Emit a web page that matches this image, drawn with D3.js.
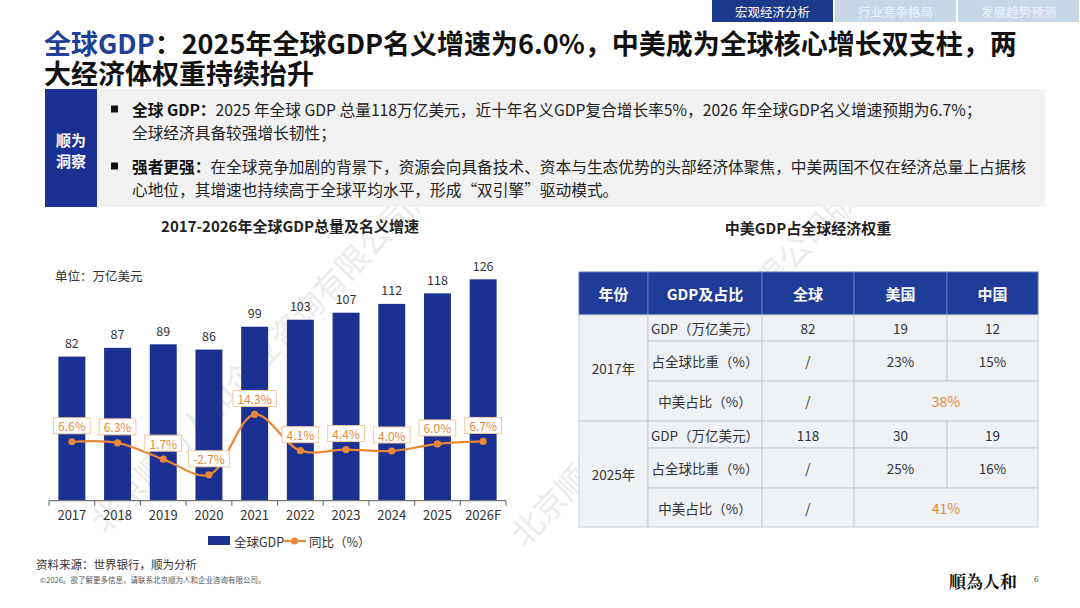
<!DOCTYPE html>
<html>
<head>
<meta charset="utf-8">
<script src="https://cdn.jsdelivr.net/npm/d3@7"></script>
<style>
  body { margin: 0; background: #fff; }
  svg { display: block; font-family: "Noto Sans CJK SC", "Noto Sans", sans-serif; }
</style>
</head>
<body>
<svg id="page" width="1080" height="608"></svg>
<script>
const YEARS = ["2017", "2018", "2019", "2020", "2021", "2022", "2023", "2024", "2025", "2026F"]
const GDP = [82, 87, 89, 86, 99, 103, 107, 112, 118, 126]
const GROWTH = [6.6, 6.3, 1.7, -2.7, 14.3, 4.1, 4.4, 4.0, 6.0, 6.7]

const TABS = ["宏观经济分析", "行业竞争格局", "发展趋势预测"]
const TABLE_HEAD = ["年份", "GDP及占比", "全球", "美国", "中国"]
const TABLE_YEARS = ["2017年", "2025年"]
const ROW_NAMES = ["GDP（万亿美元）", "占全球比重（%）", "中美占比（%）"]
const WORLD_VALS = [["82", "/", "/"], ["118", "/", "/"]]
const US_VALS = [["19", "23%"], ["30", "25%"]]
const CN_VALS = [["12", "15%"], ["19", "16%"]]
const SHARE_VALS = ["38%", "41%"]

const BLUE = "#1b3191";
const ORANGE = "#e8873a";

const svg = d3.select("#page");

// watermark (behind everything)
const wm = svg.append("g").attr("fill", "#a0a0a0").attr("opacity", 0.2)
  .attr("font-size", 32);
[[105, 535], [525, 548]].forEach(([x, y]) => {
  wm.append("text").attr("transform", `translate(${x},${y}) rotate(-46)`)
    .text("北京顺为人和企业咨询有限公司版权所有");
});

// tabs
TABS.forEach((t, i) => {
  const x0 = 712 + i * 123;
  svg.append("rect").attr("x", x0).attr("y", 0).attr("width", 121).attr("height", 22)
    .attr("fill", i === 0 ? "#1c3a8c" : "#c9d6e8");
  svg.append("text").attr("x", x0 + 60.5).attr("y", 11).attr("dominant-baseline", "central")
    .attr("text-anchor", "middle").attr("font-size", 12.5)
    .attr("fill", i === 0 ? "#fff" : "#eef3fa").text(t);
});

// title
const title = svg.append("text").attr("x", 44).attr("y", 54).attr("font-size", 27)
  .attr("font-weight", "bold").attr("fill", "#111");
title.append("tspan").attr("fill", "#1f4096").text("全球GDP");
title.append("tspan").text("：2025年全球GDP名义增速为6.0%，中美成为全球核心增长双支柱，两");
svg.append("text").attr("x", 44).attr("y", 84).attr("font-size", 27)
  .attr("font-weight", "bold").attr("fill", "#111").text("大经济体权重持续抬升");

// insight box
svg.append("rect").attr("x", 97).attr("y", 89).attr("width", 948).attr("height", 118).attr("fill", "#f2f2f2");
svg.append("rect").attr("x", 45).attr("y", 89).attr("width", 52).attr("height", 118).attr("fill", BLUE);
["顺为", "洞察"].forEach((t, i) => {
  svg.append("text").attr("x", 71).attr("y", 139 + i * 21).attr("dominant-baseline", "central")
    .attr("text-anchor", "middle").attr("font-size", 15).attr("font-weight", "bold")
    .attr("fill", "#fff").text(t);
});
const insight = [
  { y: 109, bullet: true, bold: "全球 GDP：", text: "2025 年全球 GDP 总量118万亿美元，近十年名义GDP复合增长率5%，2026 年全球GDP名义增速预期为6.7%；" },
  { y: 132, bullet: false, bold: "", text: "全球经济具备较强增长韧性；" },
  { y: 166, bullet: true, bold: "强者更强：", text: "在全球竞争加剧的背景下，资源会向具备技术、资本与生态优势的头部经济体聚焦，中美两国不仅在经济总量上占据核" },
  { y: 189, bullet: false, bold: "", text: "心地位，其增速也持续高于全球平均水平，形成“双引擎”驱动模式。" }
];
insight.forEach(l => {
  if (l.bullet) {
    svg.append("rect").attr("x", 111).attr("y", l.y - 3.5).attr("width", 7).attr("height", 7).attr("fill", "#111");
  }
  const t = svg.append("text").attr("x", 132).attr("y", l.y).attr("dominant-baseline", "central")
    .attr("font-size", 15.7).attr("fill", "#222");
  if (l.bold) t.append("tspan").attr("font-weight", "bold").attr("fill", "#111").text(l.bold);
  t.append("tspan").text(l.text);
});

// ---------- left chart ----------
svg.append("text").attr("x", 290).attr("y", 225).attr("dominant-baseline", "central")
  .attr("text-anchor", "middle").attr("font-size", 15).attr("font-weight", "bold")
  .attr("fill", "#222").text("2017-2026年全球GDP总量及名义增速");
svg.append("text").attr("x", 55).attr("y", 275).attr("dominant-baseline", "central")
  .attr("font-size", 12.5).attr("fill", "#333").text("单位：万亿美元");

const x = d3.scaleBand().domain(YEARS).range([49, 506]).paddingInner(0.41).paddingOuter(0.205);
const y = d3.scaleLinear().domain([0, 126]).range([500.7, 279.3]);
const y2 = d3.scaleLinear().domain([-10, 20]).range([500.7, 394.2]);

const chart = svg.append("g");
chart.selectAll(".bar").data(YEARS).enter().append("rect")
  .attr("x", d => x(d)).attr("width", x.bandwidth())
  .attr("y", (d, i) => y(GDP[i])).attr("height", (d, i) => y(0) - y(GDP[i]))
  .attr("fill", BLUE);
chart.selectAll(".val").data(YEARS).enter().append("text")
  .attr("x", d => x(d) + x.bandwidth() / 2).attr("y", (d, i) => y(GDP[i]) - 14)
  .attr("dominant-baseline", "central").attr("text-anchor", "middle")
  .attr("font-size", 12.5).attr("fill", "#333").text((d, i) => GDP[i]);

// x axis
const xAxis = chart.append("g").attr("transform", `translate(0, ${y(0)})`)
  .call(d3.axisBottom(x).tickSize(0).tickPadding(10));
xAxis.select(".domain").remove();
xAxis.selectAll("text").attr("font-size", 13).attr("fill", "#333")
  .attr("font-family", "\"Noto Sans CJK SC\", sans-serif");
chart.append("line").attr("x1", 49).attr("x2", 506).attr("y1", y(0)).attr("y2", y(0))
  .attr("stroke", "#777").attr("stroke-width", 1.2);
const edges = YEARS.map(d => x(d) - (x.step() - x.bandwidth()) / 2).concat([506]);
chart.selectAll(".tk").data(edges).enter().append("line")
  .attr("x1", d => d).attr("x2", d => d).attr("y1", y(0)).attr("y2", y(0) + 5)
  .attr("stroke", "#777").attr("stroke-width", 1.2);

// growth line
const cx = d => x(d) + x.bandwidth() / 2;
const line = d3.line().x(d => cx(d)).y((d, i) => y2(GROWTH[i])).curve(d3.curveCatmullRom.alpha(0.5));
chart.append("path").datum(YEARS).attr("d", line)
  .attr("fill", "none").attr("stroke", ORANGE).attr("stroke-width", 2.2);
chart.selectAll(".pt").data(YEARS).enter().append("circle")
  .attr("cx", d => cx(d)).attr("cy", (d, i) => y2(GROWTH[i])).attr("r", 3.6).attr("fill", ORANGE);

const lab = chart.selectAll(".lab").data(YEARS).enter().append("g")
  .attr("transform", (d, i) => `translate(${cx(d)}, ${y2(GROWTH[i]) - 16})`);
lab.append("rect").attr("fill", "#fff").attr("stroke", "#efc9a3").attr("stroke-width", 1);
lab.append("text").attr("dominant-baseline", "central").attr("text-anchor", "middle")
  .attr("font-size", 12).attr("fill", "#e48a3f").text((d, i) => GROWTH[i].toFixed(1) + "%");
lab.each(function() {
  const g = d3.select(this);
  const w = g.select("text").node().getComputedTextLength() + 9;
  g.select("rect").attr("x", -w / 2).attr("y", -8).attr("width", w).attr("height", 16);
});

// legend
svg.append("rect").attr("x", 208).attr("y", 536).attr("width", 22).attr("height", 9).attr("fill", BLUE);
svg.append("text").attr("x", 234).attr("y", 541).attr("dominant-baseline", "central")
  .attr("font-size", 12.5).attr("fill", "#333").text("全球GDP");
svg.append("line").attr("x1", 283).attr("x2", 306).attr("y1", 541).attr("y2", 541)
  .attr("stroke", ORANGE).attr("stroke-width", 2.2);
svg.append("circle").attr("cx", 294.5).attr("cy", 541).attr("r", 3.5).attr("fill", ORANGE);
svg.append("text").attr("x", 309).attr("y", 541).attr("dominant-baseline", "central")
  .attr("font-size", 12.5).attr("fill", "#333").text("同比（%）");

// footer
svg.append("text").attr("x", 36).attr("y", 564).attr("dominant-baseline", "central")
  .attr("font-size", 11.5).attr("fill", "#333").text("资料来源：世界银行，顺为分析");
svg.append("text").attr("x", 40).attr("y", 579).attr("dominant-baseline", "central")
  .attr("font-size", 7.5).attr("fill", "#555").text("©2026。欲了解更多信息，请联系北京顺为人和企业咨询有限公司。");
svg.append("text").attr("x", 983).attr("y", 580).attr("dominant-baseline", "central")
  .attr("text-anchor", "middle").attr("font-size", 17).attr("font-weight", "bold")
  .attr("font-family", "\"Noto Serif CJK SC\", \"Noto Sans CJK TC\", serif")
  .attr("fill", "#111").text("順為人和");
svg.append("text").attr("x", 1034).attr("y", 578).attr("dominant-baseline", "central")
  .attr("font-size", 8).attr("fill", "#555").text("6");

// ---------- right table ----------
svg.append("text").attr("x", 808).attr("y", 227).attr("dominant-baseline", "central")
  .attr("text-anchor", "middle").attr("font-size", 15).attr("font-weight", "bold")
  .attr("fill", "#222").text("中美GDP占全球经济权重");

const COLS = [579, 648, 762, 854, 947, 1038];
const ROWS = [315, 341, 381, 421, 448, 488, 527];
const HEAD_TOP = 272;
const tbl = svg.append("g");
const BORDER = "#c9ced4";
const CELL = "#eef2f5";

function cell(x0, x1, y0, y1, txt, opts = {}) {
  tbl.append("rect").attr("x", x0).attr("y", y0).attr("width", x1 - x0).attr("height", y1 - y0)
    .attr("fill", opts.fill || CELL).attr("stroke", opts.stroke || BORDER).attr("stroke-width", 1);
  tbl.append("text").attr("x", (x0 + x1) / 2).attr("y", (y0 + y1) / 2).attr("dominant-baseline", "central")
    .attr("text-anchor", "middle").attr("font-size", opts.size || 13.5)
    .attr("font-weight", opts.weight || "normal").attr("fill", opts.color || "#333").text(txt);
}

TABLE_HEAD.forEach((h, i) => {
  cell(COLS[i], COLS[i + 1], HEAD_TOP, ROWS[0], h,
    { fill: "#1f3c98", stroke: "#5d76bf", color: "#fff", size: 15, weight: "bold" });
});
TABLE_YEARS.forEach((yr, k) => {
  const r = k * 3;
  cell(COLS[0], COLS[1], ROWS[r], ROWS[r + 3], yr);
  ROW_NAMES.forEach((n, j) => {
    cell(COLS[1], COLS[2], ROWS[r + j], ROWS[r + j + 1], n);
    cell(COLS[2], COLS[3], ROWS[r + j], ROWS[r + j + 1], WORLD_VALS[k][j]);
  });
  [0, 1].forEach(j => {
    cell(COLS[3], COLS[4], ROWS[r + j], ROWS[r + j + 1], US_VALS[k][j]);
    cell(COLS[4], COLS[5], ROWS[r + j], ROWS[r + j + 1], CN_VALS[k][j]);
  });
  cell(COLS[3], COLS[5], ROWS[r + 2], ROWS[r + 3], SHARE_VALS[k], { color: "#e8873a", size: 14 });
});
</script>
</body>
</html>
